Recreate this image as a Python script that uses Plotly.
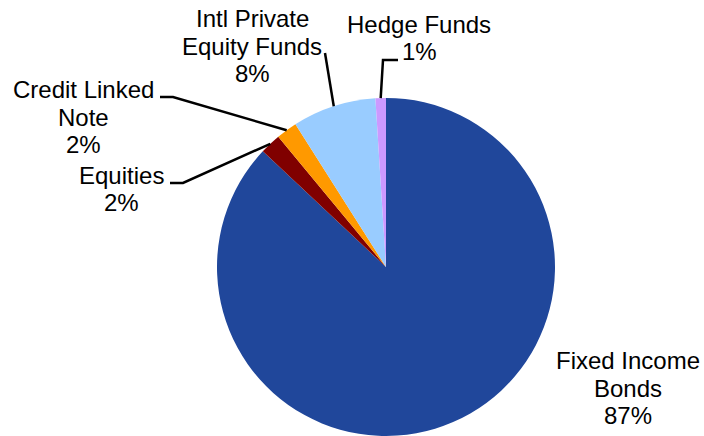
import math
import plotly.graph_objects as go

# Portfolio allocation (percent of total)
categories = ["Fixed Income Bonds", "Equities", "Credit Linked Note",
              "Intl Private Equity Funds", "Hedge Funds"]
values = [87, 2, 2, 8, 1]
colors = ["#20479B", "#800000", "#FF9900", "#99CCFF", "#CC99FF"]

# Label text lines (name lines + percentage)
label_lines = [
    ["Fixed Income", "Bonds"],
    ["Equities"],
    ["Credit Linked", "Note"],
    ["Intl Private", "Equity Funds"],
    ["Hedge Funds"],
]

W, H = 704, 436
CX, CY, R = 386, 267, 169          # pie centre and radius in pixels
LINE_H = 27.5
FONT = dict(family="Liberation Sans, Arial, sans-serif", size=24, color="black")

# label block centres (pixels) and leader-line elbows
label_pos = [(628, 388), (121, 189), (83, 117), (252, 46), (419, 38)]
leader_path = [
    None,
    [(183, 183), (170, 183)],
    [(173, 97), (160, 97)],
    [(325, 53)],
    [(383, 60), (398, 60)],
]


def px(x):
    return x / W


def py(y):
    return 1 - y / H


fig = go.Figure()
fig.add_trace(go.Pie(
    labels=categories,
    values=values,
    marker=dict(colors=colors, line=dict(width=0)),
    sort=False,
    direction="clockwise",
    rotation=0,
    textinfo="none",
    hoverinfo="label+percent",
    showlegend=False,
    domain=dict(x=[px(CX - R), px(CX + R)], y=[max(0.0, py(CY + R)), py(CY - R)]),
))

total = sum(values)
annotations = []
shapes = []
cum = 0
for name_lines, v, (lx, ly), path in zip(label_lines, values, label_pos, leader_path):
    mid = (cum + v / 2) / total * 2 * math.pi   # clockwise from 12 o'clock
    cum += v
    lines = name_lines + [f"{round(v / total * 100)}%"]
    n = len(lines)
    for i, t in enumerate(lines):
        yy = ly + (i - (n - 1) / 2) * LINE_H
        annotations.append(dict(
            x=px(lx), y=py(yy), xref="paper", yref="paper", text=t,
            showarrow=False, xanchor="center", yanchor="middle", font=FONT))
    if path:
        # leader line starts on the rim at the slice's middle angle
        sx = CX + R * math.sin(mid)
        sy = CY - R * math.cos(mid)
        pts = [(sx, sy)] + path
        d = "M " + " L ".join(f"{px(a)},{py(b)}" for a, b in pts)
        shapes.append(dict(type="path", path=d, xref="paper", yref="paper",
                           line=dict(color="black", width=2.5)))

fig.update_layout(
    width=W, height=H,
    margin=dict(l=0, r=0, t=0, b=0),
    paper_bgcolor="white",
    plot_bgcolor="white",
    annotations=annotations,
    shapes=shapes,
)

fig.write_html("out.html")
